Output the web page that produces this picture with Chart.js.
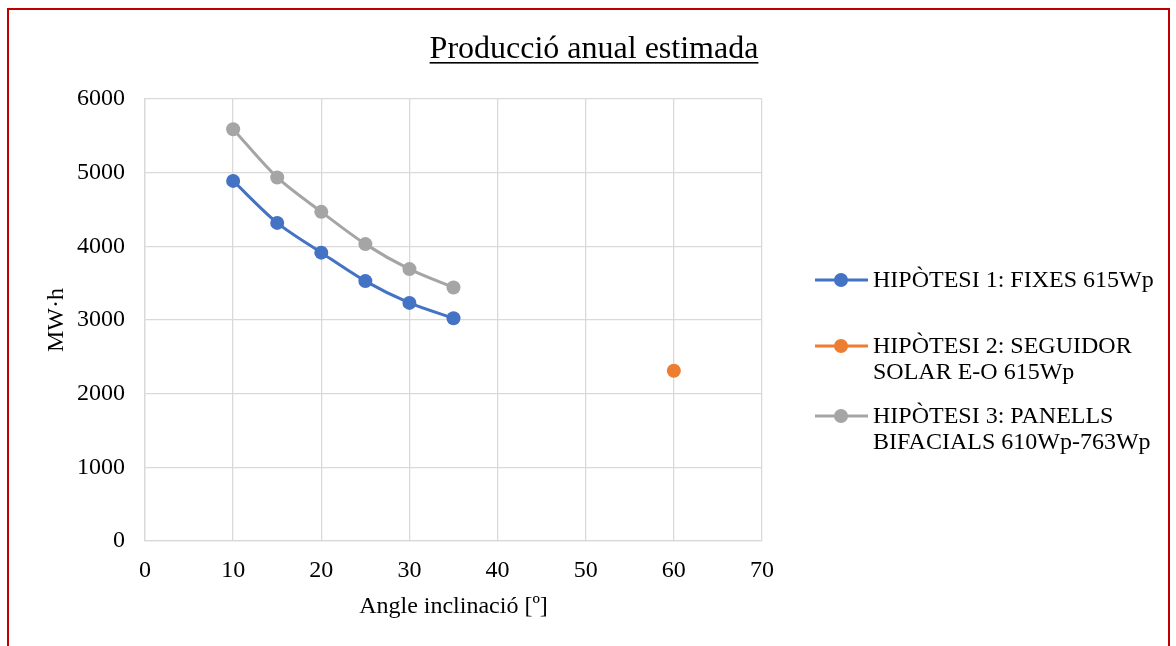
<!DOCTYPE html>
<html>
<head>
<meta charset="utf-8">
<script src="https://cdn.jsdelivr.net/npm/chart.js@4/dist/chart.umd.min.js"></script>
<style>
  html, body { margin: 0; padding: 0; background: #fff; overflow: hidden; }
  #wrap { position: relative; width: 1176px; height: 646px; }
  #frame { position: absolute; left: 7px; top: 8px; width: 1163px; height: 700px;
           border: 2.5px solid #c00000; box-sizing: border-box; pointer-events: none; }
  canvas { position: absolute; left: 0; top: 0; }
</style>
</head>
<body>
<div id="wrap">
  <canvas id="myChart" width="1176" height="646"></canvas>
  <div id="frame"></div>
</div>
<script>
var angles = [10, 15, 20, 25, 30, 35];
var fixes = [4888, 4318, 3914, 3528, 3232, 3024];
var bifacials = [5590, 4935, 4468, 4030, 3691, 3442];
var seguidorAngle = [60];
var seguidor = [2311];
var seriesNames = [
  ['HIPÒTESI 1: FIXES 615Wp'],
  ['HIPÒTESI 2: SEGUIDOR', 'SOLAR E-O 615Wp'],
  ['HIPÒTESI 3: PANELLS', 'BIFACIALS 610Wp-763Wp']
];
var chartTitle = 'Producció anual estimada';
var xTitle = 'Angle inclinació [º]';
var yTitle = 'MW·h';

function toPoints(xs, ys) {
  var pts = [];
  for (var i = 0; i < xs.length; i++) {
    pts.push({x: xs[i], y: ys[i]});
  }
  return pts;
}

var serif = '"Liberation Serif", "Times New Roman", serif';

var extras = {
  id: 'extras',
  afterDraw: function(chart) {
    var ctx = chart.ctx;
    var area = chart.chartArea;
    ctx.save();
    ctx.fillStyle = '#000';
    // title, underlined
    ctx.font = '32px ' + serif;
    ctx.textAlign = 'center';
    ctx.textBaseline = 'alphabetic';
    ctx.fillText(chartTitle, 594, 58);
    var tw = ctx.measureText(chartTitle).width;
    ctx.fillRect(594 - tw / 2, 62, tw, 1.6);
    // axis titles
    ctx.font = '24px ' + serif;
    ctx.textBaseline = 'middle';
    ctx.fillText(xTitle, (area.left + area.right) / 2, 607);
    ctx.translate(57, (area.top + area.bottom) / 2);
    ctx.rotate(-Math.PI / 2);
    ctx.fillText(yTitle, 0, 0);
    ctx.restore();

    // legend
    ctx.save();
    var rows = [280, 346, 416];
    chart.data.datasets.forEach(function(ds, i) {
      var y = rows[i];
      ctx.strokeStyle = ds.borderColor;
      ctx.lineWidth = 3;
      ctx.beginPath();
      ctx.moveTo(815, y);
      ctx.lineTo(868, y);
      ctx.stroke();
      ctx.fillStyle = ds.backgroundColor;
      ctx.beginPath();
      ctx.arc(841, y, 7, 0, Math.PI * 2);
      ctx.fill();
      ctx.fillStyle = '#000';
      ctx.font = '24px ' + serif;
      ctx.textAlign = 'left';
      ctx.textBaseline = 'middle';
      seriesNames[i].forEach(function(line, j) {
        ctx.fillText(line, 873, y + 1 + j * 26);
      });
    });
    ctx.restore();
  }
};

var ctx = document.getElementById('myChart');
var myChart = new Chart(ctx, {
  type: 'scatter',
  data: {
    datasets: [{
      label: seriesNames[0].join(' '),
      data: toPoints(angles, fixes),
      borderColor: '#4472C4',
      backgroundColor: '#4472C4',
      showLine: true,
      borderWidth: 3,
      tension: 0.3,
      pointRadius: 7,
      pointBorderWidth: 0
    }, {
      label: seriesNames[1].join(' '),
      data: toPoints(seguidorAngle, seguidor),
      borderColor: '#ED7D31',
      backgroundColor: '#ED7D31',
      showLine: true,
      borderWidth: 3,
      pointRadius: 7,
      pointBorderWidth: 0
    }, {
      label: seriesNames[2].join(' '),
      data: toPoints(angles, bifacials),
      borderColor: '#A5A5A5',
      backgroundColor: '#A5A5A5',
      showLine: true,
      borderWidth: 3,
      tension: 0.3,
      pointRadius: 7,
      pointBorderWidth: 0
    }]
  },
  options: {
    responsive: false,
    animation: false,
    layout: { padding: { top: 99, right: 414, left: 0, bottom: 0 } },
    plugins: {
      legend: { display: false },
      title: { display: false },
      tooltip: { enabled: false }
    },
    scales: {
      x: {
        type: 'linear',
        min: 0,
        max: 70,
        ticks: { stepSize: 10, color: '#000', padding: 15, font: { family: serif, size: 24 } },
        grid: { color: '#d9d9d9', lineWidth: 1.3, drawTicks: false },
        border: { color: '#d9d9d9', width: 1.3 },
        afterFit: function(scale) { scale.height = 105; }
      },
      y: {
        min: 0,
        max: 6000,
        ticks: {
          stepSize: 1000, color: '#000', padding: 20, font: { family: serif, size: 24 },
          callback: function(v) { return String(v); }
        },
        grid: { color: '#d9d9d9', lineWidth: 1.3, drawTicks: false },
        border: { color: '#d9d9d9', width: 1.3 },
        afterFit: function(scale) { scale.width = 145; }
      }
    }
  },
  plugins: [extras]
});
</script>
</body>
</html>
